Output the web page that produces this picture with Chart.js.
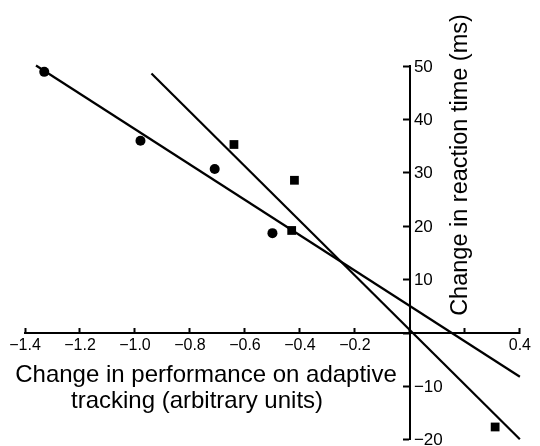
<!DOCTYPE html>
<html>
<head>
<meta charset="utf-8">
<script src="https://cdn.jsdelivr.net/npm/chart.js@4.4.1/dist/chart.umd.min.js"></script>
<style>
  html, body { margin: 0; padding: 0; background: #fff; }
  #wrap { width: 540px; height: 446px; }
</style>
</head>
<body>
<div id="wrap"><canvas id="scatterChart"></canvas></div>
<script>
// values
const circleX = [-1.33, -0.98, -0.71, -0.50];
const circleY = [48.9, 36.0, 30.7, 18.7];
const squareX = [-0.64, -0.42, -0.43, 0.31];
const squareY = [35.3, 28.6, 19.2, -17.6];

// fitted lines (end points)
const circleFitX = [-1.36, 0.40];
const circleFitY = [50.1, -8.2];
const squareFitX = [-0.94, 0.40];
const squareFitY = [48.6, -19.9];

const xTitle = ['Change in performance on adaptive', 'tracking (arbitrary units)'];
const yTitle = 'Change in reaction time (ms)';
const hiddenXLabels = [0, 0.2];

const FONT = '"Liberation Sans", Arial, Helvetica, sans-serif';

function toPoints(xs, ys) {
    return xs.map((x, i) => ({ x: x, y: ys[i] }));
}

function minus(s) {
    return s.replace('-', '\u2212');
}

// y labels sit right of the axis and both titles are drawn here
const axisText = {
    id: 'axisText',
    afterDraw(chart) {
        const ctx = chart.ctx;
        const xs = chart.scales.x;
        const ys = chart.scales.y;
        const x0 = xs.getPixelForValue(0);
        ctx.save();
        ctx.fillStyle = '#000';
        ctx.font = '17px ' + FONT;
        ctx.textAlign = 'left';
        ctx.textBaseline = 'middle';
        for (let t of ys.ticks) {
            if (t.value === 0) continue;
            ctx.fillText(minus(String(t.value)), x0 + 4, ys.getPixelForValue(t.value) + 1);
        }

        ctx.font = '24px ' + FONT;
        ctx.textAlign = 'center';
        ctx.textBaseline = 'alphabetic';
        ctx.fillText(xTitle[0], 206, 382);
        ctx.fillText(xTitle[1], 197, 408);

        ctx.font = '23.5px ' + FONT;
        ctx.translate(467, 165);
        ctx.rotate(-Math.PI / 2);
        ctx.fillText(yTitle, 0, 0);
        ctx.restore();
    }
};

let ctx = document.getElementById('scatterChart').getContext('2d');
let chart = new Chart(ctx, {
    type: 'scatter',
    data: {
        datasets: [
            {
                data: toPoints(circleFitX, circleFitY),
                showLine: true,
                borderColor: '#000',
                borderWidth: 2.2,
                pointRadius: 0,
                clip: false
            },
            {
                data: toPoints(squareFitX, squareFitY),
                showLine: true,
                borderColor: '#000',
                borderWidth: 2.2,
                pointRadius: 0,
                clip: false
            },
            {
                data: toPoints(circleX, circleY),
                pointStyle: 'circle',
                pointRadius: 5,
                backgroundColor: '#000',
                borderColor: '#000',
                borderWidth: 0,
                clip: false
            },
            {
                data: toPoints(squareX, squareY),
                pointStyle: 'rect',
                pointRadius: 6.2,
                backgroundColor: '#000',
                borderColor: '#000',
                borderWidth: 0,
                clip: false
            }
        ]
    },
    options: {
        responsive: true,
        maintainAspectRatio: false,
        animation: false,
        layout: { padding: { left: 25, right: 13, top: 66, bottom: 5 } },
        plugins: {
            legend: { display: false },
            tooltip: { enabled: false }
        },
        scales: {
            x: {
                type: 'linear',
                min: -1.4,
                max: 0.4,
                position: { y: 0 },
                border: { display: true, color: '#000', width: 2 },
                grid: { drawOnChartArea: false, color: '#000', tickLength: -6, tickWidth: 2 },
                ticks: {
                    stepSize: 0.2,
                    autoSkip: false,
                    maxRotation: 0,
                    padding: 9,
                    color: '#000',
                    font: { family: FONT, size: 16 },
                    callback: function (v) {
                        for (let h of hiddenXLabels) {
                            if (Math.abs(v - h) < 1e-9) return '';
                        }
                        return minus(v.toFixed(1));
                    }
                }
            },
            y: {
                type: 'linear',
                min: -20,
                max: 50,
                position: { x: 0 },
                border: { display: true, color: '#000', width: 2 },
                grid: { drawOnChartArea: false, color: '#000', tickLength: 6, tickWidth: 2 },
                ticks: { stepSize: 10, display: false }
            }
        }
    },
    plugins: [axisText]
});
</script>
</body>
</html>
